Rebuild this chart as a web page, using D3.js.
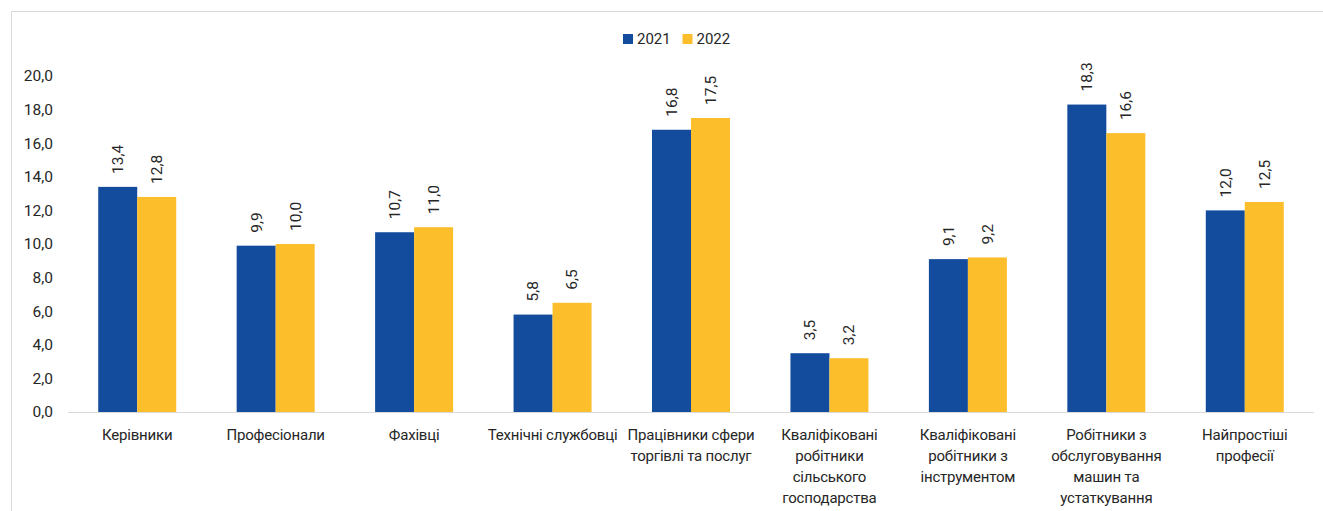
<!DOCTYPE html>
<html>
<head>
<meta charset="utf-8">
<script src="https://cdn.jsdelivr.net/npm/d3@7"></script>
<style>
  html, body { margin: 0; padding: 0; background: #fff; }
  svg text { font-family: "Roboto", "Noto Sans", sans-serif; fill: #262626; }
</style>
</head>
<body>
<svg id="chart" width="1323" height="511"></svg>
<script>
// Occupational groups (label lines) and shares by year, %
const categories = [
  ["Керівники"],
  ["Професіонали"],
  ["Фахівці"],
  ["Технічні службовці"],
  ["Працівники сфери", "торгівлі та послуг"],
  ["Кваліфіковані", "робітники", "сільського", "господарства"],
  ["Кваліфіковані", "робітники з", "інструментом"],
  ["Робітники з", "обслуговування", "машин та", "устаткування"],
  ["Найпростіші", "професії"]
];
const years = ["2021", "2022"];
const values2021 = [13.4, 9.9, 10.7, 5.8, 16.8, 3.5, 9.1, 18.3, 12.0];
const values2022 = [12.8, 10.0, 11.0, 6.5, 17.5, 3.2, 9.2, 16.6, 12.5];
const yTicks = [0, 2, 4, 6, 8, 10, 12, 14, 16, 18, 20];

const colors = { "2021": "#134c9c", "2022": "#fdbe2b" };
const fmt = v => v.toFixed(1).replace(".", ",");

const svg = d3.select("#chart");

// frame
svg.append("path")
  .attr("d", "M11.5,1323 V11.5 H1323")
  .attr("fill", "none")
  .attr("stroke", "#d9d9d9")
  .attr("stroke-width", 1);

const plotLeft = 68, plotRight = 1314, plotTop = 76, plotBottom = 412;

const x = d3.scaleBand()
  .domain(d3.range(categories.length))
  .range([plotLeft, plotRight]);

const xSub = d3.scaleBand()
  .domain(years)
  .range([0, x.bandwidth()])
  .paddingInner(0)
  .paddingOuter(0.775);

const y = d3.scaleLinear().domain([0, 20]).range([plotBottom, plotTop]);

// y axis labels
const yAxis = d3.axisLeft(y).tickValues(yTicks).tickFormat(fmt).tickSize(0).tickPadding(0);
const gy = svg.append("g").attr("transform", `translate(53,0)`).call(yAxis);
gy.select(".domain").remove();
gy.selectAll("text").style("font-size", "15.5px").attr("fill", "#262626")
  .style("font-family", "Roboto, 'Noto Sans', sans-serif");

const rows = values2021.map((v, i) => ({ i, vals: [
  { year: "2021", v }, { year: "2022", v: values2022[i] }
]}));

const groups = svg.append("g").selectAll("g")
  .data(rows).join("g")
  .attr("transform", d => `translate(${x(d.i)},0)`);

groups.selectAll("rect")
  .data(d => d.vals).join("rect")
  .attr("x", d => xSub(d.year))
  .attr("width", xSub.bandwidth())
  .attr("y", d => y(d.v))
  .attr("height", d => y(0) - y(d.v))
  .attr("fill", d => colors[d.year]);

// value labels, rotated
groups.selectAll("text.val")
  .data(d => d.vals).join("text")
  .attr("class", "val")
  .attr("transform", d => `translate(${xSub(d.year) + xSub.bandwidth() / 2},${y(d.v) - 13}) rotate(-90)`)
  .attr("dy", "0.35em")
  .attr("text-anchor", "start")
  .style("font-size", "15.5px")
  .text(d => fmt(d.v));

// baseline
svg.append("line")
  .attr("x1", plotLeft).attr("x2", plotRight)
  .attr("y1", y(0) + 0.5).attr("y2", y(0) + 0.5)
  .attr("stroke", "#d9d9d9").attr("stroke-width", 1);

// category labels
const xl = svg.append("g").selectAll("text")
  .data(categories).join("text")
  .attr("x", (d, i) => x(i) + x.bandwidth() / 2)
  .attr("y", 440)
  .attr("text-anchor", "middle")
  .style("font-size", "15px")
  .style("letter-spacing", "-0.2px");
xl.selectAll("tspan")
  .data(d => d).join("tspan")
  .attr("x", function() { return this.parentNode.getAttribute("x"); })
  .attr("dy", (d, j) => j === 0 ? 0 : 21)
  .text(d => d);

// legend
const legend = svg.append("g").attr("transform", "translate(623,39)");
const li = legend.selectAll("g").data(years).join("g")
  .attr("transform", (d, i) => `translate(${i * 59.5},0)`);
li.append("rect").attr("x", 0).attr("y", -5).attr("width", 10).attr("height", 10)
  .attr("fill", d => colors[d]);
li.append("text").attr("x", 14).attr("dy", "0.35em").style("font-size", "15px").text(d => d);
</script>
</body>
</html>
